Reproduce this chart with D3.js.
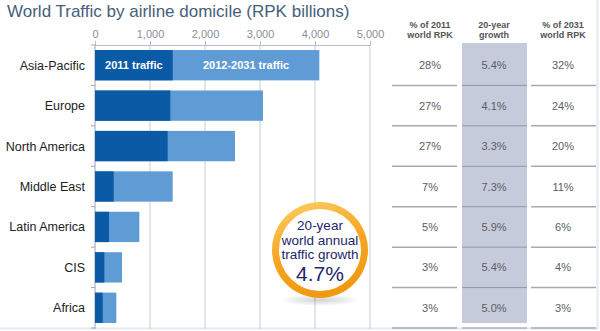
<!DOCTYPE html>
<html>
<head>
<meta charset="utf-8">
<script src="https://cdn.jsdelivr.net/npm/d3@7"></script>
<style>
  body { margin: 0; background: #fff; }
  svg { display: block; font-family: Arial, "Liberation Sans", sans-serif; }
</style>
</head>
<body>
<div id="chart"></div>
<script>
// RPK billions by airline domicile
const regions = ["Asia-Pacific", "Europe", "North America", "Middle East", "Latin America", "CIS", "Africa"];
const traffic2011 = [1413, 1370, 1321, 340, 255, 170, 140];
const traffic2031 = [4079, 3055, 2545, 1412, 806, 491, 388];
const share2011 = ["28%", "27%", "27%", "7%", "5%", "3%", "3%"];
const growth20y = ["5.4%", "4.1%", "3.3%", "7.3%", "5.9%", "5.4%", "5.0%"];
const share2031 = ["32%", "24%", "20%", "11%", "6%", "4%", "3%"];
const xTicks = [0, 1000, 2000, 3000, 4000, 5000];
const worldGrowth = "4.7%";

const width = 600, height = 331;

const svg = d3.select("#chart").append("svg")
    .attr("width", width)
    .attr("height", height);

// faint frame on right and bottom
svg.append("path")
    .attr("d", `M${width - 2.5},0 V${height - 2.5} H0`)
    .attr("fill", "none")
    .attr("stroke", "#e3e9f0")
    .attr("stroke-width", 2);

svg.append("text")
    .attr("x", 7).attr("y", 17)
    .attr("fill", "#45607a")
    .style("font-size", "17px")
    .text("World Traffic by airline domicile (RPK billions)");

const x = d3.scaleLinear().domain([0, 5000]).range([95, 370]);
const y = d3.scaleBand().domain(regions).range([45, 328]).paddingInner(0.25).paddingOuter(0.125);

// vertical grid
svg.append("g").selectAll("line")
    .data(xTicks)
    .join("line")
    .attr("x1", d => x(d)).attr("x2", d => x(d))
    .attr("y1", 45).attr("y2", 329)
    .attr("stroke", "#c9ccd6")
    .attr("stroke-width", 1);

// top axis
const xAxis = svg.append("g")
    .attr("transform", "translate(0,45)")
    .call(d3.axisTop(x).tickValues(xTicks).tickFormat(d3.format(",")).tickSize(4).tickPadding(3));
xAxis.select(".domain").attr("stroke", "#b8bcc8");
xAxis.selectAll(".tick line").attr("stroke", "#b8bcc8");
xAxis.selectAll("text").attr("fill", "#8a8f99").style("font-size", "11px").style("font-family", "Arial, sans-serif");

// left axis with band boundary ticks
const bandEdges = regions.map(r => y(r) - y.step() * y.paddingInner() / 2).concat([y(regions[6]) + y.bandwidth() + y.step() * y.paddingInner() / 2]);
svg.append("line")
    .attr("x1", 95).attr("x2", 95)
    .attr("y1", 45).attr("y2", 329)
    .attr("stroke", "#b8bcc8");
svg.append("g").selectAll("line")
    .data(bandEdges)
    .join("line")
    .attr("x1", 91).attr("x2", 95)
    .attr("y1", d => d).attr("y2", d => d)
    .attr("stroke", "#9ea3ad");

const rows = regions.map((r, i) => ({
  region: r, base: traffic2011[i], total: traffic2031[i],
  s11: share2011[i], g: growth20y[i], s31: share2031[i]
}));

// light segment spans the whole bar, dark segment overlays 2011 part
svg.append("g").selectAll("rect")
    .data(rows)
    .join("rect")
    .attr("x", x(0))
    .attr("y", d => y(d.region))
    .attr("width", d => x(d.total) - x(0))
    .attr("height", y.bandwidth())
    .attr("fill", "#5f9bd4");

svg.append("g").selectAll("rect")
    .data(rows)
    .join("rect")
    .attr("x", x(0))
    .attr("y", d => y(d.region))
    .attr("width", d => x(d.base) - x(0))
    .attr("height", y.bandwidth())
    .attr("fill", "#0b5aa6");

// in-bar labels on the first row
const first = rows[0];
svg.append("text")
    .attr("x", (x(0) + x(first.base)) / 2)
    .attr("y", y(first.region) + y.bandwidth() / 2 + 4)
    .attr("text-anchor", "middle")
    .attr("fill", "#fff")
    .style("font-size", "11px").style("font-weight", "bold")
    .text("2011 traffic");
svg.append("text")
    .attr("x", (x(first.base) + x(first.total)) / 2)
    .attr("y", y(first.region) + y.bandwidth() / 2 + 4)
    .attr("text-anchor", "middle")
    .attr("fill", "#fff")
    .style("font-size", "11px").style("font-weight", "bold")
    .text("2012-2031 traffic");

// region labels
svg.append("g").selectAll("text")
    .data(rows)
    .join("text")
    .attr("x", 85)
    .attr("y", d => y(d.region) + y.bandwidth() / 2 + 4.5)
    .attr("text-anchor", "end")
    .attr("fill", "#222")
    .style("font-size", "12.5px")
    .text(d => d.region);

// table columns
const cols = [
  { key: "s11", cx: 430, x0: 392, x1: 457, head: ["% of 2011", "world RPK"] },
  { key: "g", cx: 494, x0: 462, x1: 527, head: ["20-year", "growth"] },
  { key: "s31", cx: 563, x0: 531, x1: 596, head: ["% of 2031", "world RPK"] }
];

// shaded growth column
svg.append("rect")
    .attr("x", 462).attr("y", 43)
    .attr("width", 65).attr("height", 280)
    .attr("fill", "#c5cbdb");

cols.forEach(c => {
  const head = svg.append("text")
      .attr("text-anchor", "middle")
      .attr("fill", "#555")
      .style("font-size", "9px").style("font-weight", "bold");
  c.head.forEach((t, j) => head.append("tspan").attr("x", c.cx).attr("y", 28 + j * 10).text(t));

  svg.append("g").selectAll("text")
      .data(rows)
      .join("text")
      .attr("x", c.cx)
      .attr("y", d => y(d.region) + y.bandwidth() / 2 + 4)
      .attr("text-anchor", "middle")
      .attr("fill", "#5a5e66")
      .style("font-size", "11px")
      .text(d => d[c.key]);

  svg.append("g").selectAll("line")
      .data(bandEdges.slice(1))
      .join("line")
      .attr("x1", c.x0).attr("x2", c.x1)
      .attr("y1", d => d).attr("y2", d => d)
      .attr("stroke", c.key === "g" ? "#8f97ab" : "#a7aab2")
      .attr("stroke-width", c.key === "g" ? 1 : 1.5);
});

// growth badge
const defs = svg.append("defs");
const grad = defs.append("linearGradient").attr("id", "ring").attr("x1", 0).attr("y1", 0).attr("x2", 0.3).attr("y2", 1);
grad.append("stop").attr("offset", "0%").attr("stop-color", "#fcd068");
grad.append("stop").attr("offset", "55%").attr("stop-color", "#f6a623");
grad.append("stop").attr("offset", "100%").attr("stop-color", "#f09a12");
const shadow = defs.append("radialGradient").attr("id", "shade");
shadow.append("stop").attr("offset", "0%").attr("stop-color", "#000").attr("stop-opacity", 0.18);
shadow.append("stop").attr("offset", "100%").attr("stop-color", "#000").attr("stop-opacity", 0);

const cx = 320, cy = 250;
svg.append("ellipse")
    .attr("cx", cx).attr("cy", cy + 50)
    .attr("rx", 40).attr("ry", 6)
    .attr("fill", "url(#shade)");
svg.append("circle")
    .attr("cx", cx).attr("cy", cy).attr("r", 48)
    .attr("fill", "url(#ring)");
svg.append("circle")
    .attr("cx", cx).attr("cy", cy).attr("r", 41)
    .attr("fill", "#fff");

const badge = svg.append("text")
    .attr("text-anchor", "middle")
    .attr("fill", "#23266a")
    .style("font-size", "13.5px");
["20-year", "world annual", "traffic growth"].forEach((t, j) =>
  badge.append("tspan").attr("x", cx).attr("y", cy - 20 + j * 14.5).text(t));
svg.append("text")
    .attr("x", cx).attr("y", cy + 31)
    .attr("text-anchor", "middle")
    .attr("fill", "#23266a")
    .style("font-size", "21px")
    .text(worldGrowth);
</script>
</body>
</html>
